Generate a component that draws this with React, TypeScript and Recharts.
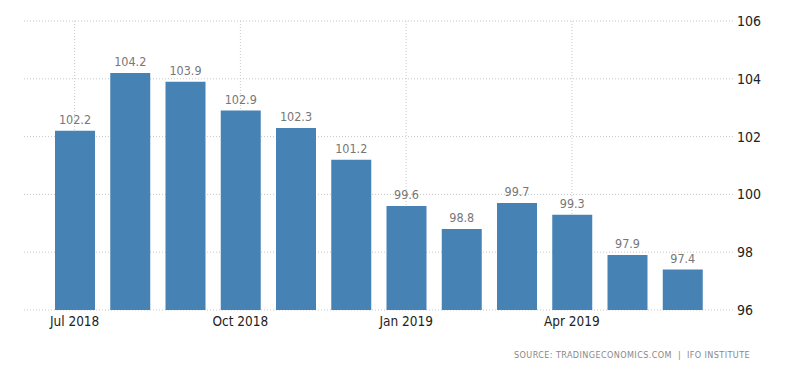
import React from 'react';
import { BarChart, Bar, XAxis, YAxis, CartesianGrid, LabelList, ReferenceLine } from 'recharts';

const months = [
  'Jul 2018', 'Aug 2018', 'Sep 2018', 'Oct 2018', 'Nov 2018', 'Dec 2018',
  'Jan 2019', 'Feb 2019', 'Mar 2019', 'Apr 2019', 'May 2019', 'Jun 2019',
];
const values = [102.2, 104.2, 103.9, 102.9, 102.3, 101.2, 99.6, 98.8, 99.7, 99.3, 97.9, 97.4];
const xTicks = ['Jul 2018', 'Oct 2018', 'Jan 2019', 'Apr 2019'];
const yTicks = [96, 98, 100, 102, 104, 106];

const data = months.map((month, i) => ({ month, value: values[i] }));

const FONT = "'DejaVu Sans Condensed', 'DejaVu Sans', sans-serif";
const yMax = yTicks[yTicks.length - 1];

const App: React.FC = () => {
  return (
    <div style={{ position: 'absolute', left: 0, top: 0, width: 800, height: 373, background: '#fff' }}>
      <BarChart width={800} height={373} data={data} margin={{ top: 21, right: 0, left: 24, bottom: 33 }}>
        <CartesianGrid stroke="#c8c8c8" strokeDasharray="1 2" vertical={false} />
        {/* vertical grid at labelled months, stopping at the bar top (bars hide it in the original) */}
        {xTicks.map((t) => (
          <ReferenceLine
            key={t}
            segment={[
              { x: t, y: yMax },
              { x: t, y: values[months.indexOf(t)] },
            ]}
            stroke="#c8c8c8"
            strokeDasharray="1 2"
          />
        ))}
        <XAxis
          dataKey="month"
          ticks={xTicks}
          height={30}
          padding={{ left: 23, right: 25 }}
          axisLine={false}
          tickLine={false}
          tickSize={4}
          tick={{ fill: '#222', fontSize: 13.5, fontFamily: FONT }}
        />
        <YAxis
          orientation="right"
          domain={[96, 106]}
          ticks={yTicks}
          width={65}
          axisLine={false}
          tickLine={false}
          tickSize={0}
          tickMargin={2}
          tick={{ fill: '#222', fontSize: 14, fontFamily: FONT, textAnchor: 'start' }}
        />
        <Bar dataKey="value" fill="#4682b4" barSize={40} isAnimationActive={false}>
          <LabelList
            dataKey="value"
            position="top"
            offset={7}
            style={{ fill: '#777', fontSize: 12.5, fontFamily: FONT }}
          />
        </Bar>
      </BarChart>
      <div
        style={{
          position: 'absolute',
          right: 50,
          top: 350,
          fontFamily: FONT,
          fontSize: 9,
          color: '#888',
          letterSpacing: 0.4,
          whiteSpace: 'nowrap',
        }}
      >
        SOURCE: TRADINGECONOMICS.COM &nbsp;|&nbsp; IFO INSTITUTE
      </div>
    </div>
  );
};

export default App;
